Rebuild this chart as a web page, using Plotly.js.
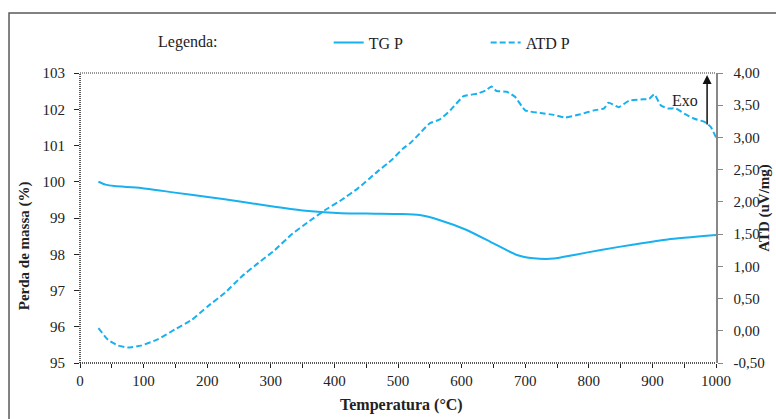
<!DOCTYPE html>
<html>
<head>
<meta charset="utf-8">
<script src="https://cdn.plot.ly/plotly-3.0.1.min.js"></script>
<style>html,body{margin:0;padding:0;background:#fff;}#chart{width:776px;height:419px;}</style>
</head>
<body>
<div id="chart"></div>
<script>
// TG P (left axis, %)
var tgTemp = [29, 40, 54, 96, 149, 201, 254, 306, 359, 411, 464, 503, 534, 566, 608, 650, 687, 713, 745, 777, 819, 871, 924, 1000];
var tgMass = [100.0, 99.92, 99.88, 99.83, 99.70, 99.58, 99.45, 99.31, 99.19, 99.13, 99.12, 99.11, 99.08, 98.94, 98.67, 98.30, 97.98, 97.89, 97.88, 97.98, 98.12, 98.27, 98.41, 98.53];
// ATD P (right axis, uV/mg)
var atdTemp = [29, 44, 60, 75, 96, 123, 149, 176, 201, 228, 254, 280, 306, 332, 359, 385, 411, 437, 464, 490, 508, 519, 534, 550, 566, 582, 603, 625, 638, 647, 655, 671, 684, 700, 724, 745, 763, 787, 808, 824, 831, 847, 863, 882, 895, 903, 913, 924, 937, 950, 966, 982, 992, 1000];
var atdVal = [0.04, -0.14, -0.23, -0.26, -0.23, -0.13, 0.02, 0.17, 0.38, 0.59, 0.84, 1.05, 1.25, 1.49, 1.69, 1.87, 2.03, 2.21, 2.44, 2.65, 2.83, 2.91, 3.06, 3.22, 3.28, 3.42, 3.64, 3.68, 3.73, 3.79, 3.72, 3.71, 3.63, 3.42, 3.38, 3.35, 3.31, 3.36, 3.42, 3.45, 3.54, 3.47, 3.57, 3.59, 3.60, 3.67, 3.50, 3.45, 3.45, 3.37, 3.29, 3.24, 3.16, 3.00];
// tick labels
var xTicks = [0, 100, 200, 300, 400, 500, 600, 700, 800, 900, 1000];
var y1Ticks = [95, 96, 97, 98, 99, 100, 101, 102, 103];
var y2Ticks = [-0.5, 0, 0.5, 1, 1.5, 2, 2.5, 3, 3.5, 4];
var y2TickText = ['-0,50', '0,00', '0,50', '1,00', '1,50', '2,00', '2,50', '3,00', '3,50', '4,00'];

var blue = '#18b0ef';
var serif = '"Liberation Serif", "DejaVu Serif", serif';

var traces = [
  {x: tgTemp, y: tgMass, name: 'TG P', type: 'scatter', mode: 'lines',
   line: {color: blue, width: 2, shape: 'spline', smoothing: 0.6}, yaxis: 'y'},
  {x: atdTemp, y: atdVal, name: 'ATD P', type: 'scatter', mode: 'lines',
   line: {color: blue, width: 2, dash: '6px,3px', shape: 'spline', smoothing: 0.4}, yaxis: 'y2'}
];

var layout = {
  width: 776, height: 419,
  margin: {l: 80, r: 60, t: 73, b: 56},
  paper_bgcolor: '#fff', plot_bgcolor: '#fff',
  font: {family: serif, size: 15, color: '#222'},
  showlegend: true,
  legend: {orientation: 'h', x: 0.391, xanchor: 'left', y: 1.105, yanchor: 'middle',
           font: {family: serif, size: 16, color: '#222'}, entrywidth: 112, entrywidthmode: 'pixels',
           bgcolor: 'rgba(0,0,0,0)'},
  xaxis: {range: [0, 1000], tickvals: xTicks, ticks: 'outside', ticklen: 4, tickcolor: '#222',
          tickfont: {family: serif, size: 15, color: '#222'},
          minor: {dtick: 50, ticks: 'outside', ticklen: 4, tickcolor: '#222'},
          showgrid: false, zeroline: false, showline: false, fixedrange: true},
  yaxis: {range: [95, 103], tickvals: y1Ticks, ticks: 'outside', ticklen: 5, tickcolor: '#222',
          tickfont: {family: serif, size: 15, color: '#222'},
          showgrid: false, zeroline: false, showline: false, ticklabelstandoff: 6},
  yaxis2: {range: [-0.5, 4], overlaying: 'y', side: 'right', tickvals: y2Ticks, ticktext: y2TickText,
           tickfont: {family: serif, size: 15, color: '#222'},
           ticks: 'outside', ticklen: 5, tickcolor: '#888', showline: true, linecolor: '#888', linewidth: 1.5,
           showgrid: false, zeroline: false, ticklabelstandoff: 8},
  shapes: [
    {type: 'rect', xref: 'paper', yref: 'paper', x0: -0.1116, x1: 1.3, y0: -0.4, y1: 1.207,
     line: {color: '#595959', width: 1.5}, fillcolor: 'rgba(0,0,0,0)'},
    {type: 'line', xref: 'paper', yref: 'paper', x0: 0, x1: 1, y0: 1, y1: 1,
     line: {color: '#333', width: 1, dash: '1px,1px'}},
    {type: 'line', xref: 'paper', yref: 'paper', x0: 0, x1: 1, y0: 0, y1: 0,
     line: {color: '#222', width: 1.5, dash: '1px,1px'}},
    {type: 'line', xref: 'paper', yref: 'paper', x0: 0, x1: 0, y0: 0, y1: 1,
     line: {color: '#222', width: 1.5, dash: '1px,1px'}}
  ],
  annotations: [
    {text: 'Legenda:', xref: 'paper', yref: 'paper', x: 0.12, y: 1.107, xanchor: 'left', yanchor: 'middle',
     showarrow: false, font: {family: serif, size: 16, color: '#222'}},
    {text: 'Perda de massa (%)', xref: 'paper', yref: 'paper', x: -0.087, y: 0.405, textangle: -90,
     xanchor: 'center', yanchor: 'middle', showarrow: false, font: {family: serif, size: 15, color: '#222', weight: 'bold'}},
    {text: 'ATD (uV/mg)', xref: 'paper', yref: 'paper', x: 1.077, y: 0.535, textangle: -90,
     xanchor: 'center', yanchor: 'middle', showarrow: false, font: {family: serif, size: 15, color: '#222', weight: 'bold'}},
    {text: 'Temperatura (°C)', xref: 'paper', yref: 'paper', x: 0.506, y: -0.145,
     xanchor: 'center', yanchor: 'middle', showarrow: false, font: {family: serif, size: 16, color: '#222', weight: 'bold'}},
    {text: 'Exo', xref: 'paper', yref: 'paper', x: 0.951, y: 0.905, xanchor: 'center', yanchor: 'middle',
     showarrow: false, font: {family: serif, size: 16, color: '#222'}},
    {text: '', xref: 'paper', yref: 'paper', x: 0.986, y: 0.993, ax: 0, ay: 51,
     showarrow: true, arrowhead: 2, arrowsize: 1.2, arrowwidth: 1.5, arrowcolor: '#111'}
  ]
};

Plotly.newPlot('chart', traces, layout, {staticPlot: true, displayModeBar: false});
</script>
</body>
</html>
